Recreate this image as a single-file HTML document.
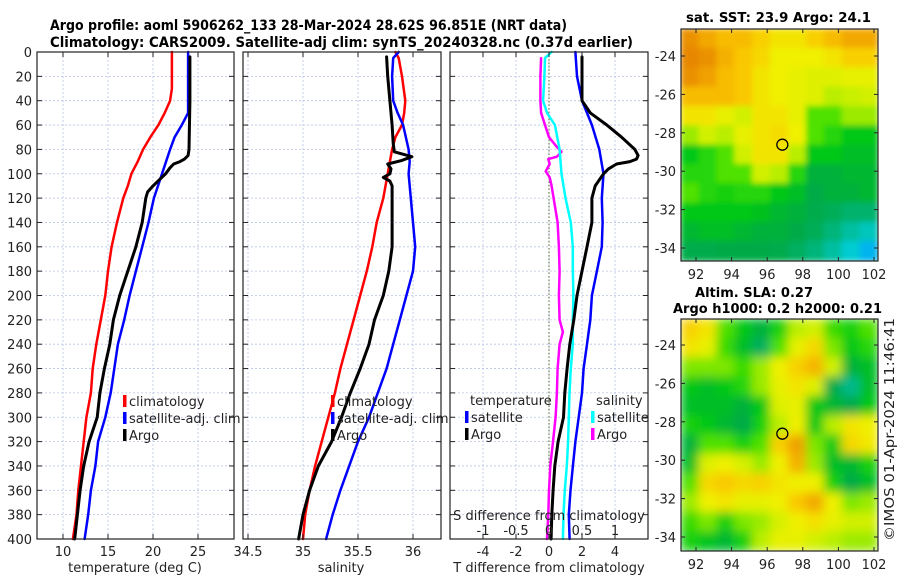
<!DOCTYPE html>
<html><head><meta charset="utf-8"><style>
html,body{margin:0;padding:0;background:#fff;}
svg{display:block;font-family:"DejaVu Sans","Liberation Sans",sans-serif;}
</style></head><body>
<svg id="fig" width="900" height="580" viewBox="0 0 900 580" xmlns="http://www.w3.org/2000/svg">
<defs>
<filter id="blur1" x="0" y="0" width="1" height="1"><feGaussianBlur stdDeviation="3" edgeMode="duplicate"/></filter>
<filter id="blur2" x="0" y="0" width="1" height="1"><feGaussianBlur stdDeviation="5" edgeMode="duplicate"/></filter>
<clipPath id="cm1"><rect x="681" y="29" width="197" height="232"/></clipPath>
<clipPath id="cm2"><rect x="681" y="319" width="197" height="232"/></clipPath>
</defs>
<text x="50" y="30" font-size="14" font-weight="bold" textLength="517" lengthAdjust="spacingAndGlyphs">Argo profile: aoml 5906262_133 28-Mar-2024 28.62S 96.851E (NRT data)</text>
<text x="50" y="47" font-size="14" font-weight="bold" textLength="583" lengthAdjust="spacingAndGlyphs">Climatology: CARS2009. Satellite-adj clim: synTS_20240328.nc (0.37d earlier)</text>
<text x="686" y="22" font-size="13" font-weight="bold" textLength="185" lengthAdjust="spacingAndGlyphs">sat. SST: 23.9 Argo: 24.1</text>
<text x="695" y="297" font-size="13" font-weight="bold" textLength="118" lengthAdjust="spacingAndGlyphs">Altim. SLA: 0.27</text>
<text x="673" y="313" font-size="13" font-weight="bold" textLength="209" lengthAdjust="spacingAndGlyphs">Argo h1000: 0.2 h2000: 0.21</text>
<text transform="translate(894,541) rotate(-90)" font-size="13" fill="#222" textLength="223" lengthAdjust="spacingAndGlyphs">©IMOS 01-Apr-2024 11:46:41</text>
<g id="layer"></g>
</svg>
<script>
// ---- Temperature panel data ----
var tClimDepth=[0,30,40,50,60,70,80,90,100,110,120,140,160,180,200,220,240,260,280,300,320,340,360,380,400];
var tClim=[22.1,22.1,21.9,21.3,20.6,19.7,18.9,18.3,17.6,17.2,16.7,16.0,15.4,15.0,14.7,14.2,13.7,13.3,13.1,12.6,12.3,12.0,11.7,11.5,11.1];
var tSatDepth=[0,50,60,70,80,100,120,140,160,180,200,220,240,260,280,300,320,340,360,380,400];
var tSat=[23.9,23.9,23.2,22.4,21.9,21.0,20.1,19.5,18.8,18.1,17.4,16.8,16.1,15.7,15.3,14.7,13.9,13.6,13.1,12.8,12.4];
var tArgoDepth=[4,40,80,85,88,90,92,95,100,105,110,115,120,140,160,180,200,220,240,260,280,300,320,340,360,380,400];
var tArgo=[24.1,24.1,24.0,23.9,23.5,23.0,22.3,21.9,21.4,20.7,20.0,19.4,19.2,18.8,18.1,17.2,16.3,15.6,15.2,14.6,14.1,13.8,12.9,12.3,11.9,11.6,11.3];
// ---- Salinity panel data ----
var sClimDepth=[0,5,20,40,50,60,70,80,100,120,140,160,180,200,220,240,260,280,300,320,340,360,380,400];
var sClim=[35.84,35.87,35.9,35.93,35.92,35.9,35.84,35.81,35.77,35.73,35.67,35.63,35.58,35.52,35.46,35.40,35.34,35.29,35.23,35.17,35.11,35.06,35.02,35.0];
var sSatDepth=[0,5,20,40,50,60,80,90,100,120,140,160,180,200,220,240,260,280,300,320,340,360,380,400];
var sSat=[35.87,35.82,35.81,35.82,35.86,35.91,35.96,35.97,35.96,35.98,36.0,36.02,36.0,35.94,35.88,35.82,35.76,35.68,35.6,35.5,35.42,35.34,35.27,35.21];
var sArgoDepth=[4,20,40,60,75,82,86,89,92,96,100,103,106,110,120,140,160,180,200,220,240,260,280,300,320,340,360,380,400];
var sArgo=[35.76,35.77,35.79,35.81,35.82,35.83,35.99,35.9,35.77,35.8,35.79,35.73,35.79,35.81,35.81,35.81,35.81,35.78,35.73,35.65,35.6,35.52,35.43,35.35,35.26,35.14,35.06,35.0,34.96];
// ---- Difference panel data ----
var dTSatDepth=[0,20,40,60,80,100,120,140,160,180,200,220,240,260,280,300,320,340,360,380,400];
var dTSat=[1.6,1.7,2.0,2.6,3.05,3.3,3.2,3.25,3.2,2.9,2.6,2.5,2.3,2.1,2.0,1.8,1.6,1.45,1.3,1.2,1.25];
var dTArgoDepth=[4,40,50,60,70,80,85,88,90,92,96,100,110,120,140,160,180,200,220,240,260,280,300,320,340,360,380,400];
var dTArgo=[2.0,2.0,2.5,3.5,4.4,5.2,5.4,5.3,4.9,4.1,3.6,3.3,2.8,2.6,2.6,2.3,2.0,1.7,1.5,1.26,1.1,0.96,0.88,0.55,0.35,0.25,0.17,0.13];
var dSSatDepth=[0,5,20,40,50,60,80,100,120,140,160,180,200,220,240,260,280,300,320,340,360,380,400];
var dSSat=[0.04,-0.06,-0.07,-0.09,-0.03,0.09,0.16,0.19,0.25,0.33,0.36,0.36,0.37,0.36,0.36,0.33,0.31,0.3,0.29,0.27,0.24,0.22,0.21];
var dSArgoDepth=[5,20,40,50,60,70,78,82,86,88,92,98,103,110,120,140,160,180,200,220,230,240,260,280,300,320,340,360,380,400];
var dSArgo=[-0.12,-0.13,-0.13,-0.12,-0.06,0,0.12,0.19,0.12,-0.01,0.01,-0.05,0.01,0.04,0.07,0.13,0.15,0.16,0.15,0.16,0.21,0.16,0.13,0.12,0.1,0.06,0.02,0,-0.01,-0.03];
// ---- Ticks ----
var depthTicks=[0,20,40,60,80,100,120,140,160,180,200,220,240,260,280,300,320,340,360,380,400];
var tTicks=[10,15,20,25];
var sTicks=[34.5,35,35.5,36];
var sTickLabels=["34.5","35","35.5","36"];
var dTTicks=[-4,-2,0,2,4];
var dSTicks=[-1,-0.5,0,0.5,1];
var dSTickLabels=["-1","-0.5","0","0.5","1"];
var lonTicks=[92,94,96,98,100,102];
var latTicks=[-24,-26,-28,-30,-32,-34];
var argoLon=96.851, argoLat=-28.62;
// ---- Map grids (normalised colour index 0..1), rows north->south ----
var sstGrid=[
[.95,.9,.85,.85,.8,.75,.75,.8,.85,.9,.9],
[.97,.95,.88,.82,.78,.72,.72,.72,.75,.8,.8],
[.95,.92,.85,.82,.75,.72,.7,.68,.68,.7,.7],
[.85,.85,.85,.82,.75,.72,.7,.68,.62,.63,.65],
[.75,.75,.7,.65,.75,.75,.7,.55,.55,.6,.6],
[.6,.65,.62,.7,.75,.77,.72,.55,.5,.45,.45],
[.45,.5,.55,.65,.75,.75,.62,.45,.45,.42,.42],
[.5,.5,.55,.55,.65,.62,.5,.38,.38,.4,.4],
[.55,.5,.48,.5,.5,.45,.42,.36,.38,.38,.4],
[.45,.45,.45,.45,.43,.4,.38,.35,.33,.3,.3],
[.4,.42,.42,.4,.38,.38,.36,.33,.28,.22,.18],
[.35,.35,.36,.36,.36,.35,.32,.28,.22,.15,.08]];
var slaGrid=[
[.8,.75,.55,.45,.38,.48,.62,.65,.52,.48,.55],
[.75,.7,.52,.42,.32,.55,.7,.78,.58,.45,.5],
[.58,.58,.58,.52,.6,.72,.8,.87,.65,.38,.42],
[.45,.42,.45,.5,.6,.7,.75,.68,.35,.25,.42],
[.42,.42,.42,.38,.45,.68,.7,.45,.4,.35,.45],
[.48,.45,.4,.36,.48,.62,.72,.45,.62,.75,.72],
[.38,.55,.55,.48,.55,.8,.92,.58,.46,.78,.74],
[.42,.68,.72,.66,.6,.72,.88,.6,.42,.4,.48],
[.55,.78,.82,.78,.8,.75,.72,.72,.48,.36,.42],
[.6,.72,.75,.7,.7,.72,.82,.9,.72,.58,.6],
[.52,.58,.48,.58,.6,.66,.72,.76,.7,.65,.65],
[.48,.44,.4,.48,.62,.7,.7,.65,.62,.6,.6]];

var NS='http://www.w3.org/2000/svg';
var layer=document.getElementById('layer');
function mk(tag,attrs,parent){var e=document.createElementNS(NS,tag);for(var k in attrs)e.setAttribute(k,attrs[k]);(parent||layer).appendChild(e);return e;}
var Y0=52,Y1=539;
function yD(d){return Y0+d*(Y1-Y0)/400;}
function lin(v0,v1,p0,p1){return function(v){return p0+(v-v0)*(p1-p0)/(v1-v0);};}
var P1={x0:37,x1:234}, P2={x0:243,x1:441}, P3={x0:450,x1:648};
var xT=lin(10,25,63,198);
var xS=lin(35,36,303,413);
var xdT=lin(0,4,549,615);
var xdS=lin(0,1,549,615);
var tickCol='#222', txtCol='#222';

function panel(P,name){
  var g=mk('g',{});
  
  
  return g;
}
function frame(P,g,vgrid){
  depthTicks.forEach(function(d){
    var l=mk('line',{x1:P.x0,x2:P.x1,y1:yD(d),y2:yD(d),stroke:'#b8c4e8','stroke-width':0.8,'stroke-dasharray':'2,2'},g);
    
    
  });
  vgrid.forEach(function(x){
    var l=mk('line',{x1:x,x2:x,y1:Y0,y2:Y1,stroke:'#b8c4e8','stroke-width':0.8,'stroke-dasharray':'2,2'},g);
    
    
  });
}
function ticksAndBox(P,g,vgrid){
  depthTicks.forEach(function(d){
    mk('line',{x1:P.x0,x2:P.x0+5,y1:yD(d),y2:yD(d),stroke:tickCol,'stroke-width':1},g);
    mk('line',{x1:P.x1-5,x2:P.x1,y1:yD(d),y2:yD(d),stroke:tickCol,'stroke-width':1},g);
  });
  vgrid.forEach(function(x){
    mk('line',{x1:x,x2:x,y1:Y1,y2:Y1-5,stroke:tickCol,'stroke-width':1},g);
    mk('line',{x1:x,x2:x,y1:Y0,y2:Y0+5,stroke:tickCol,'stroke-width':1},g);
  });
  var r=mk('rect',{x:P.x0,y:Y0,width:P.x1-P.x0,height:Y1-Y0,fill:'none',stroke:'#222','stroke-width':1.2},g);
  
  
}
function series(g,depths,vals,xf,col,w,name){
  var pts=[];
  for(var i=0;i<vals.length;i++){pts.push(xf(vals[i]).toFixed(1)+','+yD(depths[i]).toFixed(1));}
  var p=mk('polyline',{points:pts.join(' '),fill:'none',stroke:col,'stroke-width':w,'stroke-linejoin':'round','stroke-linecap':'round'},g);
  
  
}
function txt(g,x,y,s,opts){
  var t=mk('text',Object.assign({x:x,y:y,'font-size':13,fill:txtCol},opts||{}),g);
  t.textContent=s;return t;
}
function legendEntry(g,x,y,col,label,name){
  var m=mk('rect',{x:x,y:y-11,width:3.5,height:12,fill:col},g);
  
  
  var t=txt(g,x+6,y,label,{'font-size':13});
  
  
}

// Panel 1: temperature
var g1=panel(P1,'temperature-panel');
var vg1=tTicks.map(xT);
frame(P1,g1,vg1);
series(g1,tClimDepth,tClim,xT,'#ff0000',2.5,'temperature-climatology-line');
series(g1,tSatDepth,tSat,xT,'#0000ff',2.5,'temperature-satellite-line');
series(g1,tArgoDepth,tArgo,xT,'#000000',3,'temperature-argo-line');
ticksAndBox(P1,g1,vg1);
depthTicks.forEach(function(d){
  var t=txt(g1,32,yD(d)+5,String(d),{'text-anchor':'end','font-size':13});
  
  
});
tTicks.forEach(function(v){
  var t=txt(g1,xT(v),556,String(v),{'text-anchor':'middle','font-size':13});
  
  
});
var xl1=txt(g1,135,572,'temperature (deg C)',{'text-anchor':'middle','font-size':13});


legendEntry(g1,123,406,'#ff0000','climatology','legend-climatology');
legendEntry(g1,123,423,'#0000ff','satellite-adj. clim','legend-satellite');
legendEntry(g1,123,440,'#000000','Argo','legend-argo');

// Panel 2: salinity
var g2=panel(P2,'salinity-panel');
var vg2=sTicks.map(xS);
frame(P2,g2,vg2);
series(g2,sClimDepth,sClim,xS,'#ff0000',2.5,'salinity-climatology-line');
series(g2,sSatDepth,sSat,xS,'#0000ff',2.5,'salinity-satellite-line');
series(g2,sArgoDepth,sArgo,xS,'#000000',3,'salinity-argo-line');
ticksAndBox(P2,g2,vg2);
sTicks.forEach(function(v,i){
  var t=txt(g2,xS(v),556,sTickLabels[i],{'text-anchor':'middle','font-size':13});
  
  
});
var xl2=txt(g2,341,572,'salinity',{'text-anchor':'middle','font-size':13});


legendEntry(g2,331,406,'#ff0000','climatology','legend-climatology-s');
legendEntry(g2,331,423,'#0000ff','satellite-adj. clim','legend-satellite-s');
legendEntry(g2,331,440,'#000000','Argo','legend-argo-s');

// Panel 3: differences
var g3=panel(P3,'difference-panel');
var vg3=dTTicks.map(xdT);
frame(P3,g3,vg3);
var zl=mk('line',{x1:xdT(0),x2:xdT(0),y1:Y0,y2:Y1,stroke:'#556b2f','stroke-width':1,'stroke-dasharray':'1.5,2'},g3);


series(g3,dSArgoDepth,dSArgo,xdS,'#ff00ff',2.5,'salinity-argo-difference-line');
series(g3,dSSatDepth,dSSat,xdS,'#00ffff',2.5,'salinity-satellite-difference-line');
series(g3,dTSatDepth,dTSat,xdT,'#0000ff',2.5,'temperature-satellite-difference-line');
series(g3,dTArgoDepth,dTArgo,xdT,'#000000',3,'temperature-argo-difference-line');
ticksAndBox(P3,g3,vg3);
dTTicks.forEach(function(v){
  var t=txt(g3,xdT(v),556,String(v),{'text-anchor':'middle','font-size':13});
  
  
});
dSTicks.forEach(function(v,i){
  var t=txt(g3,xdS(v),535,dSTickLabels[i],{'text-anchor':'middle','font-size':13});
  
  
});
var xl3=txt(g3,549,520,'S difference from climatology',{'text-anchor':'middle','font-size':13});


var xl4=txt(g3,549,572,'T difference from climatology',{'text-anchor':'middle','font-size':13});


var lt=txt(g3,470,405,'temperature',{'font-size':13});


var ls=txt(g3,596,405,'salinity',{'font-size':13});


legendEntry(g3,465,422,'#0000ff','satellite','legend-t-satellite');
legendEntry(g3,465,439,'#000000','Argo','legend-t-argo');
legendEntry(g3,591,422,'#00ffff','satellite','legend-s-satellite');
legendEntry(g3,591,439,'#ff00ff','Argo','legend-s-argo');

// Maps
var cmapStops=[[0,[0,120,255]],[0.12,[0,210,230]],[0.25,[0,185,140]],[0.36,[0,170,70]],[0.45,[0,200,20]],[0.55,[80,225,0]],[0.63,[200,240,0]],[0.72,[240,240,0]],[0.82,[250,200,0]],[0.92,[240,160,0]],[1,[225,120,0]]];
function cmap(v){
  for(var i=1;i<cmapStops.length;i++){
    if(v<=cmapStops[i][0]){var a=cmapStops[i-1],b=cmapStops[i];var f=(v-a[0])/(b[0]-a[0]);
      var c=a[1].map(function(x,k){return Math.round(x+(b[1][k]-x)*f);});return 'rgb('+c.join(',')+')';}
  }
  return 'rgb(225,120,0)';
}
function drawMap(grid,top,bot,clip,blur,name){
  var X0=681,X1=878;
  var xLon=lin(92,102,696,874);
  var yLat=lin(-24,-34,top.y24,top.y24+192);
  var g=mk('g',{'clip-path':'url(#'+clip+')'});
  
  
  var inner=mk('g',{filter:'url(#'+blur+')'},g);
  var rows=grid.length,cols=grid[0].length;
  var cw=(X1-X0)/cols,ch=(bot-top.y)/rows;
  for(var r=0;r<rows;r++)for(var c=0;c<cols;c++){
    var cell=mk('rect',{x:X0+c*cw-0.5,y:top.y+r*ch-0.5,width:cw+1,height:ch+1,fill:cmap(grid[r][c])},inner);
    
    
  }
  var fr=mk('rect',{x:X0,y:top.y,width:X1-X0,height:bot-top.y,fill:'none',stroke:'#222','stroke-width':1.2});
  
  
  var circ=mk('circle',{cx:xLon(argoLon),cy:yLat(argoLat),r:5.5,fill:'none',stroke:'#000','stroke-width':1.3});
  
  
  lonTicks.forEach(function(v){
    mk('line',{x1:xLon(v),x2:xLon(v),y1:bot,y2:bot-4,stroke:tickCol});
    mk('line',{x1:xLon(v),x2:xLon(v),y1:top.y,y2:top.y+4,stroke:tickCol});
    var t=txt(layer,xLon(v),bot+18,String(v),{'text-anchor':'middle','font-size':13});
    
    
  });
  latTicks.forEach(function(v){
    mk('line',{x1:X0,x2:X0+4,y1:yLat(v),y2:yLat(v),stroke:tickCol});
    mk('line',{x1:X1-4,x2:X1,y1:yLat(v),y2:yLat(v),stroke:tickCol});
    var t=txt(layer,676,yLat(v)+5,String(v),{'text-anchor':'end','font-size':13});
    
    
  });
}
drawMap(sstGrid,{y:29,y24:56},261,'cm1','blur1','sst-map');
drawMap(slaGrid,{y:319,y24:345},551,'cm2','blur2','sla-map');
</script>
</body></html>
